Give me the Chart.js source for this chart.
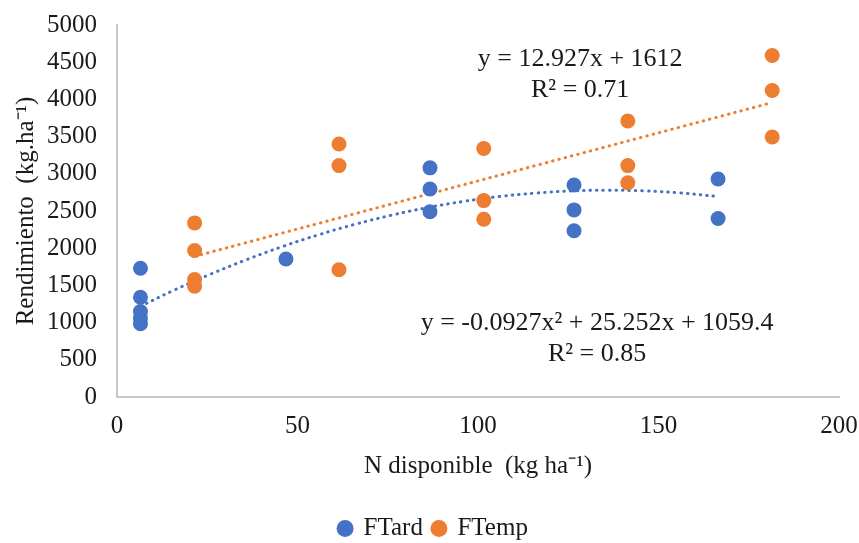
<!DOCTYPE html>
<html>
<head>
<meta charset="utf-8">
<script src="https://cdn.jsdelivr.net/npm/chart.js@4.4.1/dist/chart.umd.min.js"></script>
<style>
  html, body { margin: 0; padding: 0; background: #fff; }
  #wrap { width: 859px; height: 543px; }
</style>
</head>
<body>
<div id="wrap"><canvas id="chart"></canvas></div>
<script>
// measured points
const ftardX = [6.5, 6.5, 6.5, 6.5, 6.5, 46.8, 86.7, 86.7, 86.7, 126.6, 126.6, 126.6, 166.5, 166.5];
const ftardY = [1730, 1340, 1150, 1060, 985, 1855, 3080, 2795, 2490, 2850, 2515, 2235, 2930, 2400];
const ftempX = [21.5, 21.5, 21.5, 21.5, 61.5, 61.5, 61.5, 101.6, 101.6, 101.6, 141.5, 141.5, 141.5, 181.5, 181.5, 181.5];
const ftempY = [2340, 1970, 1580, 1490, 3400, 3110, 1710, 3340, 2640, 2390, 3710, 3110, 2880, 4590, 4120, 3495];

// trendlines
const ftardTrendX = [6.5, 16, 26, 36, 46, 56, 66, 76, 86, 96, 106, 116, 126, 136, 146, 156, 166.5];
const ftardTrendY = [1220, 1440, 1653, 1848, 2025, 2183, 2322, 2443, 2546, 2629, 2695, 2741, 2770, 2779, 2770, 2743, 2694];
const ftempTrendX = [21.5, 181.5];
const ftempTrendY = [1890, 3958];

const xTicks = [0, 50, 100, 150, 200];
const yTicks = [0, 500, 1000, 1500, 2000, 2500, 3000, 3500, 4000, 4500, 5000];

const blue = "#4472C4";
const orange = "#ED7D31";
const ink = "#1a1a1a";
const serif = "'Liberation Serif', 'Times New Roman', serif";
const font = { family: serif, size: 25, lineHeight: 1 };

const pts = (xs, ys) => xs.map((x, i) => ({ x: x, y: ys[i] }));

// equation labels placed in data units
const labels = [
  { x: 128.3, y: 4545, text: "y = 12.927x + 1612" },
  { x: 128.3, y: 4125, text: "R² = 0.71" },
  { x: 133, y: 995, text: "y = -0.0927x² + 25.252x + 1059.4" },
  { x: 133, y: 580, text: "R² = 0.85" },
];

const textPlugin = {
  id: "eqText",
  afterLayout(chart) {
    // legend is a bit right of centre in the original
    chart.legend.left += 14;
    chart.legend.right += 14;
  },
  afterDatasetsDraw(chart) {
    const { ctx, scales } = chart;
    ctx.save();
    ctx.font = "26px " + serif;
    ctx.fillStyle = ink;
    ctx.textAlign = "center";
    ctx.textBaseline = "middle";
    labels.forEach(l => {
      ctx.fillText(l.text, scales.x.getPixelForValue(l.x), scales.y.getPixelForValue(l.y));
    });
    ctx.restore();
  },
};

const dotted = {
  showLine: true,
  pointRadius: 0,
  pointHoverRadius: 0,
  borderWidth: 3,
  borderDash: [0.5, 6],
  borderCapStyle: "round",
  tension: 0.4,
  fill: false,
};

new Chart(document.getElementById("chart"), {
  type: "scatter",
  data: {
    datasets: [
      { label: "FTard", data: pts(ftardX, ftardY), backgroundColor: blue, borderColor: blue, pointRadius: 7.5, pointBorderWidth: 0 },
      { label: "FTemp", data: pts(ftempX, ftempY), backgroundColor: orange, borderColor: orange, pointRadius: 7.5, pointBorderWidth: 0 },
      Object.assign({ label: "trendTard", data: pts(ftardTrendX, ftardTrendY), borderColor: blue }, dotted),
      Object.assign({ label: "trendTemp", data: pts(ftempTrendX, ftempTrendY), borderColor: orange }, dotted),
    ],
  },
  options: {
    responsive: true,
    maintainAspectRatio: false,
    animation: false,
    // legend sits lower than Chart.js would put it, hence the negative bottom
    layout: { padding: { top: 25, right: 20, left: 0, bottom: -8 } },
    plugins: {
      tooltip: { enabled: false },
      legend: {
        position: "bottom",
        labels: {
          filter: item => item.text === "FTard" || item.text === "FTemp",
          usePointStyle: true,
          pointStyle: "circle",
          boxWidth: 12,
          boxHeight: 12,
          padding: 10,
          color: ink,
          font: font,
        },
      },
    },
    scales: {
      x: {
        type: "linear",
        min: 0,
        max: 200,
        afterFit: s => { s.height = 109; s.paddingLeft = 0; s.paddingRight = 0; },
        afterBuildTicks: s => { s.ticks = xTicks.map(v => ({ value: v })); },
        grid: { display: false, drawTicks: false },
        border: { color: "#c8c8c8", width: 2 },
        ticks: { color: ink, font: font, padding: 17, callback: v => String(v) },
        title: {
          display: true,
          text: "N disponible  (kg ha⁻¹)",
          color: ink,
          font: font,
          padding: { top: 0, bottom: 27.5 },
        },
      },
      y: {
        min: 0,
        max: 5000,
        afterFit: s => { s.width = 117; s.paddingTop = 0; s.paddingBottom = 0; },
        afterBuildTicks: s => { s.ticks = yTicks.map(v => ({ value: v })); },
        grid: { display: false, drawTicks: false },
        border: { color: "#c8c8c8", width: 2 },
        ticks: { color: ink, font: font, padding: 20, callback: v => String(v) },
        title: {
          display: true,
          text: "Rendimiento  (kg.ha⁻¹)",
          color: ink,
          font: font,
          padding: { top: 14, bottom: 0 },
        },
      },
    },
  },
  plugins: [textPlugin],
});
</script>
</body>
</html>
